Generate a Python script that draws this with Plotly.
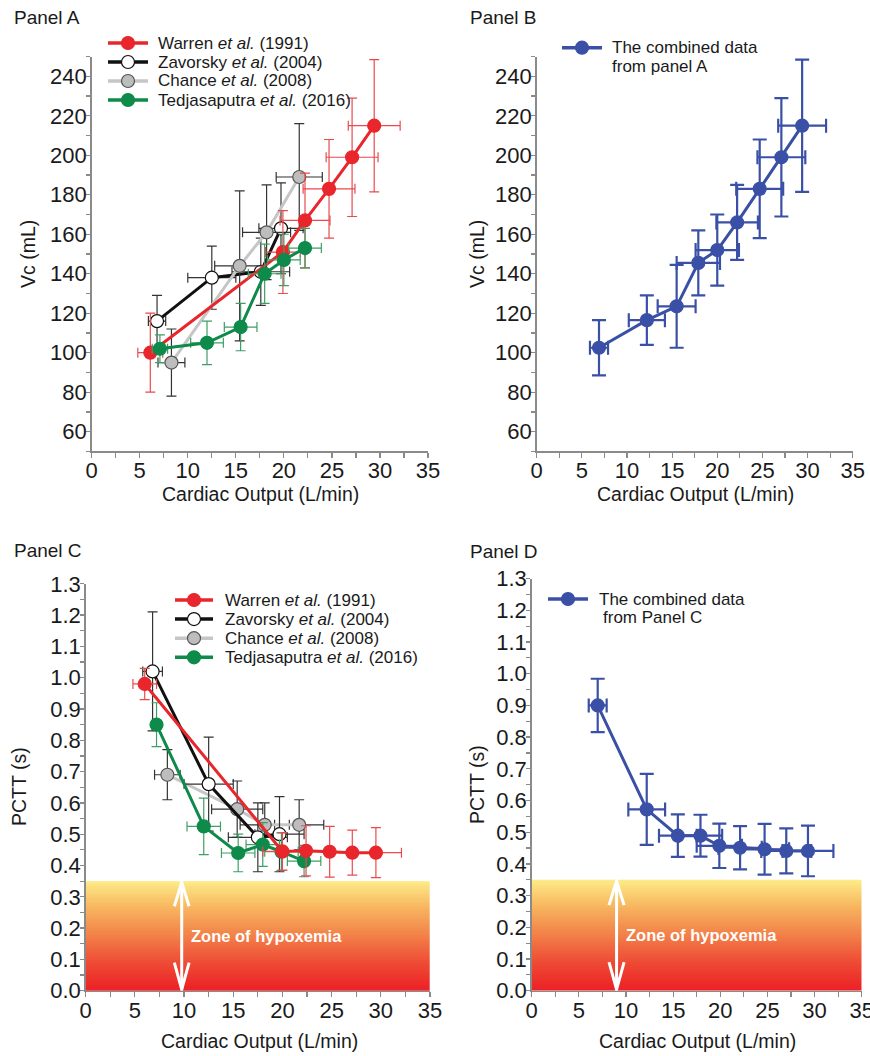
import numpy as np
import plotly.graph_objects as go

W, H = 870, 1056

# ---------------- DATA ----------------
# Panel A : Vc (mL) vs cardiac output (L/min)
a_warren_x = [6.1, 19.9, 22.2, 24.7, 27.1, 29.4]
a_warren_y = [100, 151, 167, 183, 199, 215]
a_warren_ex = [1.3, 1.8, 2.6, 2.7, 2.7, 2.7]
a_warren_ey = [20, 21, 24, 25, 30, 33.5]

a_zav_x = [6.8, 12.5, 17.6, 19.7]
a_zav_y = [116, 138, 141, 163]
a_zav_ex = [0.9, 2.5, 3.0, 2.3]
a_zav_ey = [13, 16, 17, 23]

a_chance_x = [8.3, 15.4, 18.2, 21.6]
a_chance_y = [95, 144, 161, 189]
a_chance_ex = [1.4, 2.6, 2.5, 2.4]
a_chance_ey = [17, 38, 24, 27]

a_tedj_x = [7.1, 12.0, 15.5, 18.0, 20.0, 22.2]
a_tedj_y = [102, 105, 113, 140, 147, 153]
a_tedj_ex = [0.8, 1.7, 1.7, 1.7, 1.7, 1.7]
a_tedj_ey = [7, 11, 12, 15, 13, 10]

# Panel B : combined data from panel A
b_x = [6.9, 12.2, 15.5, 17.9, 20.0, 22.2, 24.7, 27.1, 29.4]
b_y = [102.5, 116.5, 123.5, 145.5, 152, 166, 183, 199, 215]
b_ex = [1.0, 2.0, 2.1, 2.4, 2.4, 2.3, 2.6, 2.65, 2.65]
b_ey = [14, 12.5, 21, 16.5, 18, 19, 25, 30, 33.5]

# Panel C : PCTT (s) vs cardiac output
c_warren_x = [6.0, 20.0, 22.4, 24.8, 27.1, 29.5]
c_warren_y = [0.98, 0.445, 0.447, 0.444, 0.441, 0.441]
c_warren_ex = [1.2, 2.0, 2.6, 2.6, 2.6, 2.6]
c_warren_ey = [0.05, 0.06, 0.08, 0.081, 0.072, 0.08]

c_zav_x = [6.8, 12.5, 17.5, 19.7]
c_zav_y = [1.02, 0.66, 0.49, 0.50]
c_zav_ex = [1.0, 2.5, 3.0, 2.5]
c_zav_ey = [0.19, 0.15, 0.11, 0.12]

c_chance_x = [8.3, 15.4, 18.2, 21.7]
c_chance_y = [0.69, 0.58, 0.53, 0.53]
c_chance_ex = [1.3, 2.6, 2.5, 2.5]
c_chance_ey = [0.08, 0.09, 0.07, 0.08]

c_tedj_x = [7.2, 12.0, 15.5, 18.0, 19.9, 22.2]
c_tedj_y = [0.85, 0.525, 0.44, 0.467, 0.444, 0.414]
c_tedj_ex = [0.5, 1.7, 1.7, 1.7, 1.7, 1.7]
c_tedj_ey = [0.07, 0.09, 0.06, 0.07, 0.06, 0.05]

# Panel D : combined data from panel C
d_x = [7.0, 12.2, 15.5, 17.9, 19.9, 22.1, 24.7, 27.0, 29.3]
d_y = [0.90, 0.572, 0.489, 0.489, 0.457, 0.451, 0.446, 0.441, 0.441]
d_ex = [0.95, 1.95, 2.0, 2.3, 2.4, 2.3, 2.6, 2.65, 2.7]
d_ey = [0.084, 0.112, 0.067, 0.066, 0.07, 0.068, 0.08, 0.071, 0.08]

# Axis ticks
co_ticks = [0, 5, 10, 15, 20, 25, 30, 35]
vc_ticks = [60, 80, 100, 120, 140, 160, 180, 200, 220, 240]
pctt_ticks = [0.0, 0.1, 0.2, 0.3, 0.4, 0.5, 0.6, 0.7, 0.8, 0.9, 1.0, 1.1, 1.2, 1.3]
hypox_top = 0.35

W_NAME = "Warren <i>et al.</i> (1991)"
Z_NAME = "Zavorsky <i>et al.</i> (2004)"
C_NAME = "Chance <i>et al.</i> (2008)"
T_NAME = "Tedjasaputra <i>et al.</i> (2016)"

# ---------------- STYLE ----------------
FONT = "Liberation Sans, Arial, sans-serif"
TXT = "#1a1a1a"
RED, RED_E = "#E8262B", "#EA4A4C"
GREEN, GREEN_E = "#0E8A4A", "#3E9E66"
BLACK = "#111111"
GREY_L, GREY_M = "#C6C6C6", "#BDBDBD"
DARK_E = "#333333"
BLUE = "#3A50A6"
AXC = "#8A8A8A"

STY = {
    "warren": dict(line=RED, fill=RED, edge=RED, err=RED_E),
    "zav": dict(line=BLACK, fill="white", edge=BLACK, err=DARK_E),
    "chance": dict(line=GREY_L, fill=GREY_M, edge="#555555", err=DARK_E),
    "tedj": dict(line=GREEN, fill=GREEN, edge=GREEN, err=GREEN_E),
    "blue": dict(line=BLUE, fill=BLUE, edge=BLUE, err=BLUE),
}

fig = go.Figure()


def px2x(p):
    return p / W


def px2y(p):
    return 1 - p / H


def add_series(x, y, ex, ey, name, xa, ya, key, ew=1.2, cw=5, msize=13):
    s = STY[key]
    fig.add_trace(go.Scatter(
        x=x, y=y, mode="lines+markers", name=name, showlegend=False,
        xaxis=xa, yaxis=ya,
        line=dict(color=s["line"], width=3),
        marker=dict(size=msize, color=s["fill"], line=dict(color=s["edge"], width=1.2)),
        error_x=dict(type="data", array=ex, color=s["err"], thickness=ew, width=cw),
        error_y=dict(type="data", array=ey, color=s["err"], thickness=ew, width=cw),
    ))


# Hypoxemia gradient zones (panels C, D)
n_band = 70
band_edges = np.linspace(0, hypox_top, n_band + 1)
band_z = [[i / (n_band - 1)] for i in range(n_band)]
zone_scale = [[0, "#EC2126"], [0.25, "#EE4A35"], [0.55, "#F38A4C"],
              [0.8, "#F8BE64"], [1, "#FDEA88"]]
for xa, ya in (("x3", "y3"), ("x4", "y4")):
    fig.add_trace(go.Heatmap(x=[0, 35], y=band_edges, z=band_z,
                             colorscale=zone_scale, showscale=False,
                             hoverinfo="skip", xaxis=xa, yaxis=ya))

# Panel A
add_series(a_zav_x, a_zav_y, a_zav_ex, a_zav_ey, Z_NAME, "x", "y", "zav")
add_series(a_chance_x, a_chance_y, a_chance_ex, a_chance_ey, C_NAME, "x", "y", "chance")
add_series(a_warren_x, a_warren_y, a_warren_ex, a_warren_ey, W_NAME, "x", "y", "warren")
add_series(a_tedj_x, a_tedj_y, a_tedj_ex, a_tedj_ey, T_NAME, "x", "y", "tedj")

# Panel B
add_series(b_x, b_y, b_ex, b_ey, "The combined data from panel A", "x2", "y2", "blue", ew=2.2, cw=7)

# Panel C
add_series(c_chance_x, c_chance_y, c_chance_ex, c_chance_ey, C_NAME, "x3", "y3", "chance")
add_series(c_zav_x, c_zav_y, c_zav_ex, c_zav_ey, Z_NAME, "x3", "y3", "zav")
add_series(c_tedj_x, c_tedj_y, c_tedj_ex, c_tedj_ey, T_NAME, "x3", "y3", "tedj")
add_series(c_warren_x, c_warren_y, c_warren_ex, c_warren_ey, W_NAME, "x3", "y3", "warren")

# Panel D
add_series(d_x, d_y, d_ex, d_ey, "The combined data from Panel C", "x4", "y4", "blue", ew=2.2, cw=7)

# ---------------- AXES ----------------
TICKFONT = dict(family=FONT, size=22, color=TXT)


def xaxis(dom, anchor):
    return dict(domain=dom, anchor=anchor, range=[0, 35], tickmode="array", tickvals=co_ticks,
                showline=True, linecolor=AXC, linewidth=1.5, ticks="outside", ticklen=5,
                tickcolor=AXC, tickwidth=1.2, showgrid=False, zeroline=False,
                tickfont=TICKFONT, automargin=False, fixedrange=True, ticklabelstandoff=-6,
                ticklabeloverflow="allow",
                minor=dict(ticks="outside", ticklen=5, tickcolor=AXC, tickwidth=1.2,
                           dtick=2.5, tick0=0, showgrid=False))


def yaxis(dom, anchor, rng, tv, minor_dt, fmt=None):
    d = dict(domain=dom, anchor=anchor, range=rng, tickmode="array", tickvals=tv,
             showline=True, linecolor=AXC, linewidth=1.5, ticks="outside", ticklen=4,
             tickcolor=AXC, tickwidth=1.2, showgrid=False, zeroline=False,
             tickfont=TICKFONT, automargin=False, fixedrange=True, ticklabelstandoff=-5,
             ticklabeloverflow="allow",
             minor=dict(ticks="outside", ticklen=4, tickcolor=AXC, tickwidth=1.2,
                        dtick=minor_dt, tick0=0, showgrid=False))
    if fmt:
        d["tickformat"] = fmt
    return d


yA = [px2y(451.4), px2y(56.6)]
yC = [px2y(990.7), px2y(583.8)]
yD = [px2y(990.7), px2y(578.6)]

fig.update_layout(
    width=W, height=H, margin=dict(l=0, r=0, t=0, b=0),
    paper_bgcolor="white", plot_bgcolor="rgba(0,0,0,0)", showlegend=False,
    font=dict(family=FONT, color=TXT), hovermode=False,
    xaxis=xaxis([px2x(91.7), px2x(428)], "y"),
    yaxis=yaxis(yA, "x", [50, 250], vc_ticks, 10),
    xaxis2=xaxis([px2x(536.7), px2x(852.7)], "y2"),
    yaxis2=yaxis(yA, "x2", [50, 250], vc_ticks, 10),
    xaxis3=xaxis([px2x(85.7), px2x(430)], "y3"),
    yaxis3=yaxis(yC, "x3", [0, 1.3], pctt_ticks, 0.05, ".1f"),
    xaxis4=xaxis([px2x(531.7), px2x(861.7)], "y4"),
    yaxis4=yaxis(yD, "x4", [0, 1.3], pctt_ticks, 0.05, ".1f"),
)


# ---------------- TEXT ----------------
def ann(text, xp, yp, size, angle=0, xanchor="center", color=TXT):
    fig.add_annotation(text=text, x=px2x(xp), y=px2y(yp), xref="paper", yref="paper",
                       showarrow=False, xanchor=xanchor, yanchor="middle", textangle=angle,
                       font=dict(family=FONT, size=size, color=color))


# Legends (line + marker + label), drawn in page pixels
def legend_entry(key, x0, x1, yp, lines, tx, dy=19, r=6.5):
    s = STY[key]
    fig.add_shape(type="line", xref="paper", yref="paper",
                  x0=px2x(x0), x1=px2x(x1), y0=px2y(yp), y1=px2y(yp),
                  line=dict(color=s["line"], width=3.5))
    xc = (x0 + x1) / 2
    fig.add_shape(type="circle", xref="paper", yref="paper",
                  x0=px2x(xc - r), x1=px2x(xc + r), y0=px2y(yp + r), y1=px2y(yp - r),
                  fillcolor=s["fill"], line=dict(color=s["edge"], width=1.2))
    for i, (t, dx) in enumerate(lines):
        ann(t, tx + dx, yp + i * dy, 17, xanchor="left")


for i, (key, name) in enumerate((("warren", W_NAME), ("zav", Z_NAME),
                                 ("chance", C_NAME), ("tedj", T_NAME))):
    legend_entry(key, 108, 148, 43 + i * 19, [(name, 0)], 156)
    legend_entry(key, 175, 213, 600 + i * 19.1, [(name, 0)], 223)

legend_entry("blue", 562, 602, 47.7, [("The combined data", 0), ("from panel A", 0)], 610)
legend_entry("blue", 548, 588, 599, [("The combined data", 0), ("from Panel C", 4)], 597, dy=18.7)

for t, xp, yp in (("Panel A", 12, 17), ("Panel B", 468, 17), ("Panel C", 12, 550), ("Panel D", 468, 551)):
    ann(t, xp, yp, 19, xanchor="left")

XT = "Cardiac Output (L/min)"
ann(XT, 260, 494, 19.5)
ann(XT, 695, 494, 19.5)
ann(XT, 259, 1041, 19.5)
ann(XT, 697, 1041, 19.5)
ann("Vc (mL)", 28, 254, 19.5, angle=-90)
ann("Vc (mL)", 477, 254, 19.5, angle=-90)
ann("PCTT (s)", 19, 787, 19.5, angle=-90)
ann("PCTT (s)", 477, 785, 19.5, angle=-90)

# Zone of hypoxemia labels and double arrows
for xa, ya, arrow_x, text_x, hw in (("x3", "y3", 9.76, 10.5, 0.75), ("x4", "y4", 9.0, 9.8, 0.8)):
    fig.add_annotation(text="<b>Zone of hypoxemia</b>", x=text_x, y=0.176, xref=xa, yref=ya,
                       showarrow=False, xanchor="left", yanchor="middle",
                       font=dict(family=FONT, size=16.5, color="white"))
    fig.add_shape(type="line", x0=arrow_x, x1=arrow_x, y0=0.004, y1=hypox_top - 0.004,
                  xref=xa, yref=ya, line=dict(color="white", width=3))
    fig.add_shape(type="path", xref=xa, yref=ya,
                  path=f"M {arrow_x - hw},{hypox_top - 0.08} L {arrow_x},{hypox_top - 0.004} L {arrow_x + hw},{hypox_top - 0.08}",
                  line=dict(color="white", width=3))
    fig.add_shape(type="path", xref=xa, yref=ya,
                  path=f"M {arrow_x - hw},0.09 L {arrow_x},0.004 L {arrow_x + hw},0.09",
                  line=dict(color="white", width=3))

fig.write_html("out.html", config={"displayModeBar": False, "staticPlot": True},
               post_script="document.body.style.margin='0';document.body.style.overflow='hidden';")
